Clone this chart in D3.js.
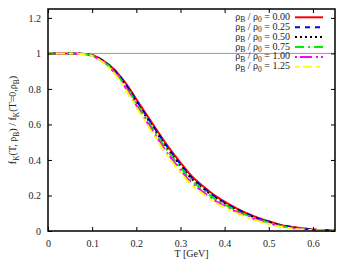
<!DOCTYPE html>
<html>
<head>
<meta charset="utf-8">
<script src="https://cdn.jsdelivr.net/npm/d3@7"></script>
<style>
  html, body { margin: 0; padding: 0; background: #fff; overflow: hidden; }
  svg { display: block; }
  text { font-family: "Liberation Serif", "DejaVu Serif", serif; }
</style>
</head>
<body>
<svg id="chart" width="353" height="263"></svg>
<script>
// temperature grid (GeV)
const temps = [0, 0.025, 0.05, 0.075, 0.1, 0.125, 0.15, 0.175, 0.2, 0.225, 0.25, 0.275, 0.3,
  0.325, 0.35, 0.375, 0.4, 0.425, 0.45, 0.475, 0.5, 0.525, 0.55, 0.575, 0.6, 0.625, 0.65];

const rho000 = [1, 1, 1, 0.998, 0.99, 0.96, 0.91, 0.835, 0.742, 0.648, 0.555, 0.465, 0.385,
  0.31, 0.255, 0.205, 0.165, 0.13, 0.10, 0.075, 0.055, 0.036, 0.024, 0.015, 0.009, 0.005, 0.003];
const rho025 = [1, 1, 1, 0.998, 0.989, 0.958, 0.907, 0.83, 0.735, 0.64, 0.547, 0.457, 0.377,
  0.302, 0.248, 0.199, 0.160, 0.126, 0.097, 0.072, 0.053, 0.034, 0.023, 0.014, 0.008, 0.005, 0.003];
const rho050 = [1, 1, 1, 0.998, 0.989, 0.956, 0.903, 0.825, 0.729, 0.633, 0.539, 0.448, 0.369,
  0.295, 0.242, 0.194, 0.155, 0.122, 0.093, 0.070, 0.051, 0.032, 0.021, 0.013, 0.008, 0.004, 0.002];
const rho075 = [1, 1, 1, 0.998, 0.988, 0.954, 0.899, 0.818, 0.72, 0.623, 0.528, 0.437, 0.358,
  0.285, 0.233, 0.186, 0.149, 0.117, 0.089, 0.066, 0.048, 0.030, 0.020, 0.012, 0.007, 0.004, 0.002];
const rho100 = [1, 1, 1, 0.997, 0.986, 0.951, 0.894, 0.809, 0.708, 0.61, 0.514, 0.423, 0.344,
  0.272, 0.222, 0.176, 0.141, 0.11, 0.084, 0.062, 0.044, 0.027, 0.017, 0.010, 0.005, 0.003, 0.002];
const rho125 = [1, 1, 1, 0.997, 0.985, 0.948, 0.888, 0.80, 0.697, 0.598, 0.50, 0.409, 0.33,
  0.26, 0.211, 0.167, 0.133, 0.103, 0.078, 0.057, 0.04, 0.024, 0.015, 0.008, 0.004, 0.002, 0.001];

const densities = ['0.00', '0.25', '0.50', '0.75', '1.00', '1.25'];
const seriesValues = [rho000, rho025, rho050, rho075, rho100, rho125];
const colors = ['#ff0000', '#0000ff', '#000000', '#00ee00', '#ff00ff', '#ffff00'];
const dashes = ['none', '5,5', '2,3', '9,4,2,4', '2,3,12,4', '4,4,9,4'];

const xTicks = [0, 0.1, 0.2, 0.3, 0.4, 0.5, 0.6];
const yTicks = [0, 0.2, 0.4, 0.6, 0.8, 1, 1.2];

const margin = {top: 9, right: 18, bottom: 32, left: 48};
const width = 353, height = 263;
const innerWidth = width - margin.left - margin.right;
const innerHeight = height - margin.top - margin.bottom;

const svg = d3.select('#chart');
const g = svg.append('g').attr('transform', `translate(${margin.left},${margin.top})`);

const x = d3.scaleLinear().domain([0, 0.65]).range([0, innerWidth]);
const y = d3.scaleLinear().domain([0, 1.25]).range([innerHeight, 0]);

// reference line at 1
g.append('line')
  .attr('x1', 0).attr('x2', innerWidth)
  .attr('y1', y(1)).attr('y2', y(1))
  .attr('stroke', '#999').attr('stroke-width', 1);

const line = d3.line()
  .x((d, i) => x(temps[i]))
  .y(d => y(d))
  .curve(d3.curveMonotoneX);

g.append('g')
  .selectAll('path')
  .data(seriesValues)
  .join('path')
    .attr('d', d => line(d))
    .attr('fill', 'none')
    .attr('stroke', (d, i) => colors[i])
    .attr('stroke-width', 2)
    .attr('stroke-dasharray', (d, i) => dashes[i]);

// axes with inward ticks, mirrored on top/right
const tickStyle = sel => {
  sel.select('.domain').remove();
  sel.selectAll('.tick line').attr('stroke', '#000').attr('stroke-width', 1);
  sel.selectAll('.tick text').attr('fill', '#222').style('font-size', '10px');
};
const noLabels = sel => {
  sel.select('.domain').remove();
  sel.selectAll('.tick text').remove();
  sel.selectAll('.tick line').attr('stroke', '#000').attr('stroke-width', 1);
};

g.append('g')
  .attr('transform', `translate(0,${innerHeight})`)
  .call(d3.axisBottom(x).tickValues(xTicks).tickFormat(d3.format('')).tickSizeInner(-4).tickPadding(9))
  .call(tickStyle);

g.append('g')
  .call(d3.axisTop(x).tickValues(xTicks).tickSizeInner(-4))
  .call(noLabels);

g.append('g')
  .call(d3.axisLeft(y).tickValues(yTicks).tickFormat(d3.format('')).tickSizeInner(-4).tickPadding(7))
  .call(tickStyle);

g.append('g')
  .attr('transform', `translate(${innerWidth},0)`)
  .call(d3.axisRight(y).tickValues(yTicks).tickSizeInner(-4))
  .call(noLabels);

g.append('rect')
  .attr('width', innerWidth).attr('height', innerHeight)
  .attr('fill', 'none').attr('stroke', '#000').attr('stroke-width', 1.5);

// text with subscripts: parts = [[text, isSub], ...]
function rich(sel, parts) {
  let sub = false;
  parts.forEach(([t, s]) => {
    const ts = sel.append('tspan').text(t);
    if (s && !sub) ts.attr('dy', 2.5).style('font-size', '7.5px');
    else if (s) ts.style('font-size', '7.5px');
    else if (sub) ts.attr('dy', -2.5);
    sub = s;
  });
}

// axis labels
svg.append('text')
  .attr('x', margin.left + innerWidth / 2)
  .attr('y', 257)
  .attr('text-anchor', 'middle')
  .style('font-size', '10px')
  .attr('fill', '#222')
  .text('T [GeV]');

const yl = svg.append('text')
  .attr('transform', `translate(16,${margin.top + 111}) rotate(-90)`)
  .attr('text-anchor', 'middle')
  .style('font-size', '10px')
  .attr('fill', '#222');
rich(yl, [['f', false], ['K', true], ['(T, ρ', false], ['B', true], [') / f', false], ['K', true],
  ['(T=0,ρ', false], ['B', true], [')', false]]);

// legend
const legend = svg.append('g').attr('transform', 'translate(290,17.3)');
const rows = legend.selectAll('g')
  .data(densities)
  .join('g')
    .attr('transform', (d, i) => `translate(0,${i * 9.9})`);

rows.each(function (d) {
  const t = d3.select(this).append('text')
    .attr('text-anchor', 'end')
    .attr('y', 2.5)
    .style('font-size', '10px')
    .attr('fill', '#222');
  rich(t, [['ρ', false], ['B', true], [' / ρ', false], ['0', true], [' = ' + d, false]]);
});

rows.append('line')
  .attr('x1', 5).attr('x2', 33)
  .attr('stroke', (d, i) => colors[i])
  .attr('stroke-width', 2)
  .attr('stroke-dasharray', (d, i) => dashes[i]);
</script>
</body>
</html>
